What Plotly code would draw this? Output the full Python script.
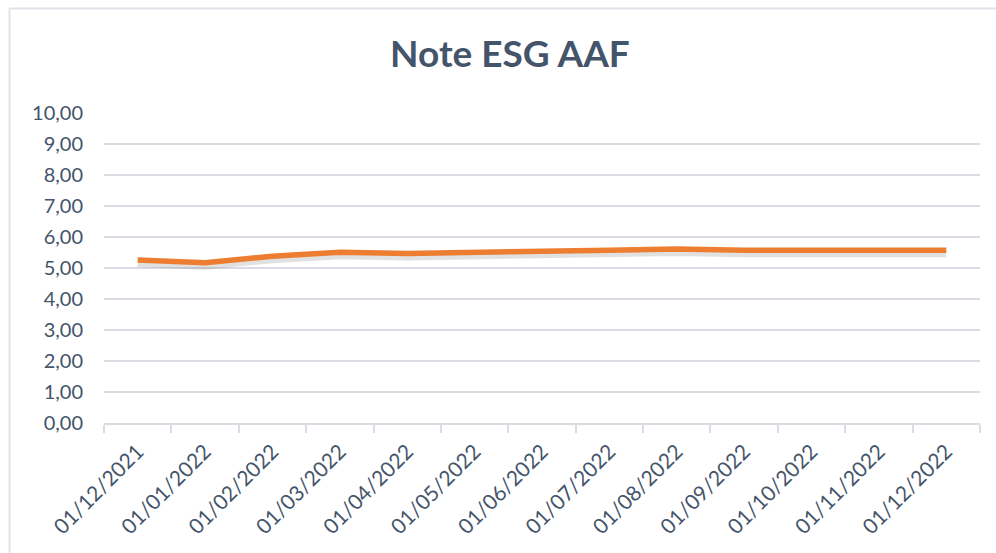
import plotly.graph_objects as go

# ---- data ----
dates = ["01/12/2021", "01/01/2022", "01/02/2022", "01/03/2022", "01/04/2022",
         "01/05/2022", "01/06/2022", "01/07/2022", "01/08/2022", "01/09/2022",
         "01/10/2022", "01/11/2022", "01/12/2022"]
note_esg = [5.26, 5.17, 5.38, 5.51, 5.47, 5.52, 5.54, 5.57, 5.61, 5.57, 5.56, 5.56, 5.57]
y_ticks = [0, 1, 2, 3, 4, 5, 6, 7, 8, 9, 10]
y_tick_labels = ["0,00", "1,00", "2,00", "3,00", "4,00", "5,00", "6,00", "7,00", "8,00", "9,00", "10,00"]
title_text = "Note ESG AAF"

W, H = 996, 553
ML, MR, MT, MB = 104, 16, 113, 130
PW, PH = W - ML - MR, H - MT - MB

TXT = "#44546A"
GRID = "#D9DDE3"
FONT = "Lato, 'Open Sans', sans-serif"

shadow_shift = 3.0 / PH * 10  # ~3px in data units

fig = go.Figure()
# base (transparent) trace so the main axis subplot exists
fig.add_trace(go.Scatter(x=dates, y=note_esg, mode="lines", yaxis="y",
                         line=dict(color="rgba(0,0,0,0)", width=1),
                         hoverinfo="skip", showlegend=False))
# soft shadow, on a shifted invisible overlay axis
fig.add_trace(go.Scatter(x=dates, y=note_esg, mode="lines", yaxis="y2",
                         line=dict(color="rgba(70,70,70,0.16)", width=8),
                         hoverinfo="skip", showlegend=False))
# main line
fig.add_trace(go.Scatter(x=dates, y=note_esg, mode="lines", yaxis="y3",
                         line=dict(color="#ED7D31", width=5.5),
                         name="Note ESG", showlegend=False))

px_to_x = lambda p: (p - ML) / PW
px_to_y = lambda p: (H - MB - p) / PH
border_col = "#E0E4EA"

fig.update_layout(
    width=W, height=H,
    margin=dict(l=ML, r=MR, t=MT, b=MB, autoexpand=False),
    paper_bgcolor="white", plot_bgcolor="white",
    font=dict(family=FONT, color=TXT, size=20),
    title=dict(text=f"<b>{title_text}</b>", x=0.512, xanchor="center",
               y=1 - 54 / H, yanchor="middle", yref="container",
               font=dict(size=37, color=TXT, family=FONT)),
    xaxis=dict(type="category", categoryorder="array", categoryarray=dates,
               showgrid=False, showline=True, linecolor=GRID, linewidth=2,
               ticks="outside", tickson="boundaries", ticklen=8, tickwidth=2,
               tickcolor=GRID, tickangle=-45, tickfont=dict(size=21, color=TXT),
               ticklabelstandoff=6,
               range=[-0.5, len(dates) - 0.5], zeroline=False),
    yaxis=dict(range=[0, 10], tickvals=y_ticks, ticktext=y_tick_labels,
               showgrid=True, gridcolor=GRID, gridwidth=1.5, zeroline=False,
               showline=False, ticks="", ticklabelstandoff=20,
               tickfont=dict(size=20, color=TXT)),
    yaxis2=dict(range=[0 + shadow_shift, 10 + shadow_shift], overlaying="y",
                visible=False, showgrid=False, zeroline=False),
    yaxis3=dict(range=[0, 10], overlaying="y", visible=False,
                showgrid=False, zeroline=False),
    shapes=[
        dict(type="line", xref="paper", yref="paper",
             x0=px_to_x(9.5), x1=px_to_x(9.5), y0=px_to_y(H + 5), y1=px_to_y(8.5),
             line=dict(color=border_col, width=2)),
        dict(type="line", xref="paper", yref="paper",
             x0=px_to_x(9.5), x1=px_to_x(W + 5), y0=px_to_y(8.5), y1=px_to_y(8.5),
             line=dict(color=border_col, width=2)),
    ],
)

fig.write_html("out.html", config={"displayModeBar": False},
               post_script="document.body.style.margin='0';")
